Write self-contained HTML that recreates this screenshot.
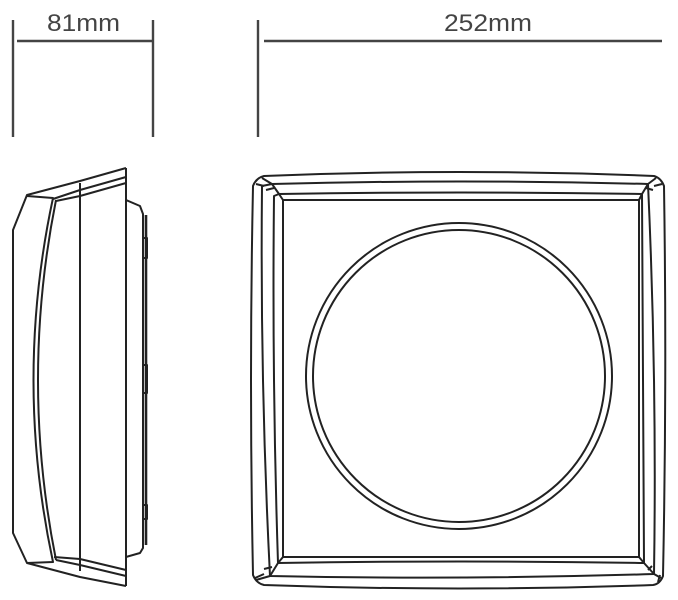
<!DOCTYPE html>
<html><head><style>
html,body{margin:0;padding:0;background:#fff;width:678px;height:600px;overflow:hidden}
svg{display:block}
text{font-family:"Liberation Sans",sans-serif;fill:#444}
</style></head><body>
<svg width="678" height="600" viewBox="0 0 678 600" xmlns="http://www.w3.org/2000/svg">
<g stroke="#444" stroke-width="2.4" fill="none">
<line x1="13" y1="20" x2="13" y2="137"/>
<line x1="153" y1="20" x2="153" y2="137"/>
<line x1="258" y1="20" x2="258" y2="137"/>
<line x1="17" y1="41" x2="152" y2="41"/>
<line x1="264" y1="41" x2="662" y2="41"/>
</g>
<text x="47" y="31" font-size="24" textLength="73" lengthAdjust="spacingAndGlyphs">81mm</text>
<text x="444" y="31" font-size="24" textLength="88" lengthAdjust="spacingAndGlyphs">252mm</text>

<g stroke="#222" stroke-width="2" fill="none" stroke-linejoin="round">
<!-- side view -->
<path d="M126 168 L126 586"/>
<path d="M80 183 L80 571"/>
<path d="M126 168 L80 181 L27 195 L13 230 L13 533 L27 563 L80 577 L126 586"/>
<path d="M126 177 L80 190 L53 199"/>
<path d="M126 183 L80 196 L56 201"/>
<path d="M126 576 L80 565 L56 560"/>
<path d="M126 570 L80 559 L54 557"/>
<path d="M27 196 L53 198 Q14 380 53 562 L27 563"/>
<path d="M56 200 Q20 380 56 560"/>
<path d="M126 200 L140 206 L143 214 L143 548 L140 553 L126 557"/>
<path d="M146 215 L146 545" stroke-width="2.6"/>
<path d="M143 238 h4 v20 h-4 M143 365 h4 v28 h-4 M143 505 h4 v14 h-4"/>
<!-- front frames -->
<path d="M264 176 Q460 168 654 176 Q661 178 664 186 Q667 380 663 576 Q660 584 653 585 Q460 592 264 585 Q256 583 253 575 Q249 380 253 186 Q256 178 264 176 Z"/>
<path d="M272 184 Q460 179 648 184 Q657 380 654 574 Q460 580 270 576 Q260 380 262 186 Z"/>
<path d="M279 194 Q460 191 642 194 L644 563 Q460 560 278 563 Q272 380 274 196 Z"/>
<path d="M283 200 L639 200 L639 557 L283 557 Z"/>
<path d="M262 178 L272 184 L279 194 L283 200 M656 178 L648 184 L642 194 L639 200 M661 578 L654 574 L644 563 L639 557 M256 580 L270 576 L278 563 L283 557"/>
<path d="M256 184 L264 186 M266 190 L274 188 M662 184 L654 186 M653 190 L646 188 M255 578 L264 574 M264 569 L272 567 M658 582 L660 575 M648 570 L652 566"/>
<circle cx="459" cy="376" r="153"/>
<circle cx="459" cy="376" r="146"/>
</g>
</svg>
</body></html>
